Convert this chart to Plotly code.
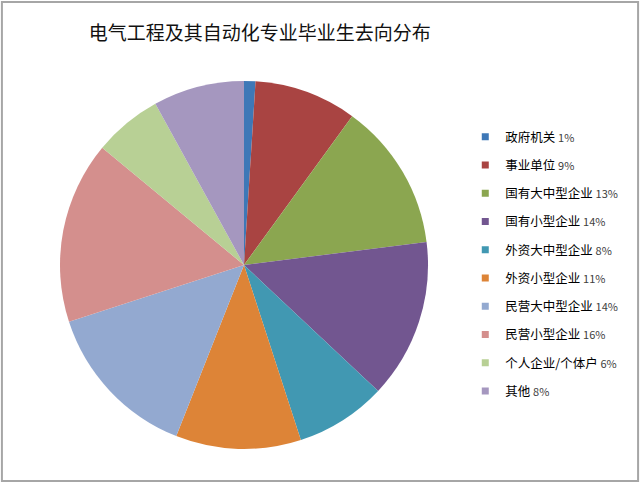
import plotly.graph_objects as go

categories = ["政府机关", "事业单位", "国有大中型企业", "国有小型企业", "外资大中型企业",
              "外资小型企业", "民营大中型企业", "民营小型企业", "个人企业/个体户", "其他"]
values = [1, 9, 13, 14, 8, 11, 14, 16, 6, 8]
colors = ["#3E78B7", "#A94442", "#8BA650", "#725690", "#4198B2",
          "#DD8437", "#93A9D0", "#D48F8D", "#B8D095", "#A597BF"]
title_text = "电气工程及其自动化专业毕业生去向分布"

W, H = 640, 483
cx, cy, r = 244, 265, 184

fig = go.Figure()
fig.add_trace(go.Pie(
    labels=categories, values=values, sort=False, direction="clockwise", rotation=0,
    marker=dict(colors=colors, line=dict(width=0)),
    textinfo="none", hoverinfo="label+percent", showlegend=False,
    domain=dict(x=[(cx - r) / W, (cx + r) / W], y=[(H - cy - r) / H, (H - cy + r) / H]),
))

for cat, v, c in zip(categories, values, colors):
    fig.add_trace(go.Scatter(
        x=[None], y=[None], mode="markers",
        marker=dict(symbol="square", size=7, color=c),
        name=f"{cat} <span style='font-size:11px;color:#404040'>{v}%</span>",
        legendgroup=cat, showlegend=True,
    ))

fig.update_layout(
    width=W, height=H,
    margin=dict(l=0, r=0, t=0, b=0),
    paper_bgcolor="white", plot_bgcolor="white",
    font=dict(family="Noto Sans CJK SC, sans-serif", color="#000000"),
    title=dict(text=title_text, x=0.406, xanchor="center", y=0.93, yanchor="middle",
               font=dict(size=19, color="#111111")),
    xaxis=dict(visible=False), yaxis=dict(visible=False),
    legend=dict(x=0.727, y=0.747, xanchor="left", yanchor="top",
                font=dict(size=12.5, color="#000000"), tracegroupgap=9,
                itemwidth=30, bgcolor="rgba(0,0,0,0)"),
    shapes=[dict(type="rect", xref="paper", yref="paper", x0=0.003, x1=0.997, y0=0.004, y1=0.996,
                 line=dict(color="#a6a6a6", width=2))],
)

fig.write_html("out.html", config={"displayModeBar": False},
               post_script="document.body.style.margin='0';")
